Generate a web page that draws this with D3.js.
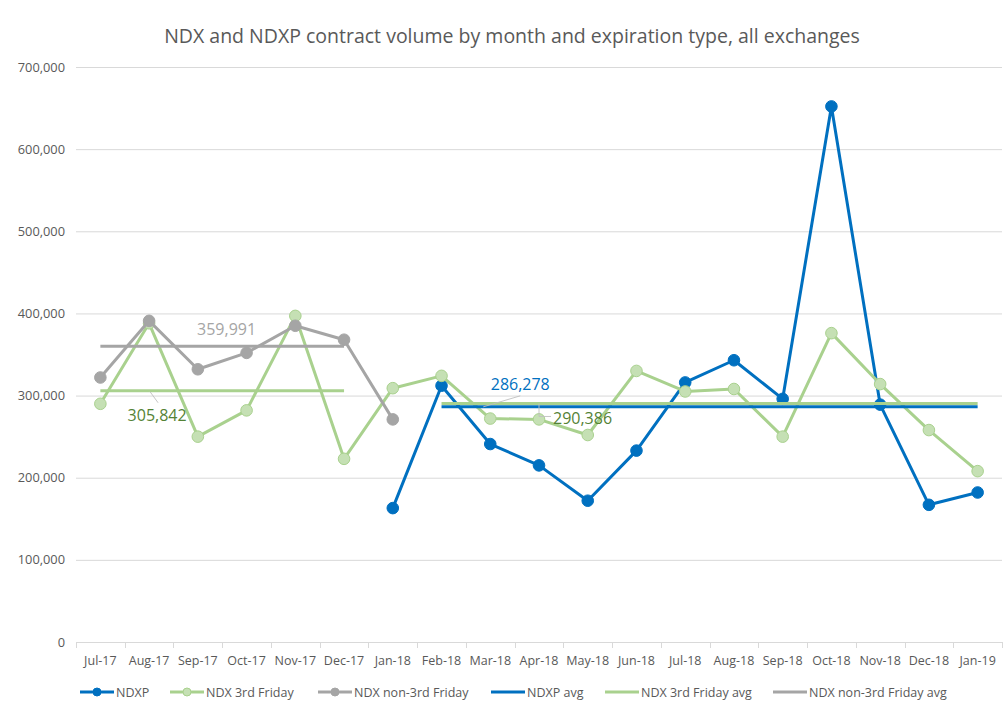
<!DOCTYPE html>
<html>
<head>
<meta charset="utf-8">
<script src="https://cdn.jsdelivr.net/npm/d3@7"></script>
<style>
  html, body { margin: 0; padding: 0; background: #fff; }
  svg { display: block; }
  text { font-family: "Open Sans", "DejaVu Sans", sans-serif; }
</style>
</head>
<body>
<svg id="chart" width="1006" height="711"></svg>
<script>
// ---- DATA ----
const months = ["Jul-17","Aug-17","Sep-17","Oct-17","Nov-17","Dec-17","Jan-18","Feb-18","Mar-18","Apr-18","May-18","Jun-18","Jul-18","Aug-18","Sep-18","Oct-18","Nov-18","Dec-18","Jan-19"];
const ndxp        = [null,null,null,null,null,null,163000,312000,241000,215000,172000,233000,316000,343000,296000,652000,289000,167000,182000];
const ndx3rd      = [290000,388000,250000,282000,397000,223000,309000,324000,272000,271000,252000,330000,305000,308000,250000,376000,314000,258000,208000];
const ndxNon3rd   = [322000,391000,332000,352000,385000,368000,271000,null,null,null,null,null,null,null,null,null,null,null,null];
const ndxpAvg     = [null,null,null,null,null,null,null,286278,286278,286278,286278,286278,286278,286278,286278,286278,286278,286278,286278];
const ndx3rdAvg   = [305842,305842,305842,305842,305842,305842,null,290386,290386,290386,290386,290386,290386,290386,290386,290386,290386,290386,290386];
const ndxNon3rdAvg= [359991,359991,359991,359991,359991,359991,null,null,null,null,null,null,null,null,null,null,null,null,null];
const yTicks = [0,100000,200000,300000,400000,500000,600000,700000];
const seriesNames = ["NDXP","NDX 3rd Friday","NDX non-3rd Friday","NDXP avg","NDX 3rd Friday avg","NDX non-3rd Friday avg"];
const chartTitle = "NDX and NDXP contract volume by month and expiration type, all exchanges";

// ---- STYLE ----
const BLUE = "#0070C0", GREEN = "#A9D18E", GREEN_FILL = "#C5E0B4", GRAY = "#A5A5A5";
const series = [
  {name: seriesNames[0], values: ndxp,         stroke: BLUE,  fill: BLUE,       marker: true},
  {name: seriesNames[1], values: ndx3rd,       stroke: GREEN, fill: GREEN_FILL, marker: true},
  {name: seriesNames[2], values: ndxNon3rd,    stroke: GRAY,  fill: GRAY,       marker: true},
  {name: seriesNames[3], values: ndxpAvg,      stroke: BLUE,  fill: BLUE,       marker: false},
  {name: seriesNames[4], values: ndx3rdAvg,    stroke: GREEN, fill: GREEN,      marker: false},
  {name: seriesNames[5], values: ndxNon3rdAvg, stroke: GRAY,  fill: GRAY,       marker: false}
];

const svg = d3.select("#chart");
const pLeft = 76, pRight = 1002, pTop = 67, pBottom = 642;

const x = d3.scaleBand().domain(months).range([pLeft, pRight]).paddingInner(0).paddingOuter(0);
const cx = m => x(m) + x.bandwidth() / 2;
const y = d3.scaleLinear().domain([0, 700000]).range([pBottom, pTop]);
const fmt = d3.format(",");

// Title
svg.append("text")
  .attr("x", 512).attr("y", 43)
  .attr("text-anchor", "middle")
  .attr("font-size", 19.5)
  .attr("fill", "#595959")
  .text(chartTitle);

// Gridlines
svg.append("g").selectAll("line").data(yTicks.filter(d => d > 0)).join("line")
  .attr("x1", pLeft).attr("x2", pRight)
  .attr("y1", d => y(d) + 0.5).attr("y2", d => y(d) + 0.5)
  .attr("stroke", "#D9D9D9").attr("stroke-width", 1);

// Y axis labels
const yAxis = d3.axisLeft(y).tickValues(yTicks).tickFormat(d => fmt(d)).tickSize(0).tickPadding(11);
const gy = svg.append("g").attr("transform", `translate(${pLeft},0)`).call(yAxis);
gy.select(".domain").remove();
gy.selectAll("text").attr("font-size", 12.8).attr("fill", "#595959")
  .attr("font-family", '"Open Sans", sans-serif');

// X axis
const xAxis = d3.axisBottom(x).tickSize(0).tickPadding(14);
const gx = svg.append("g").attr("transform", `translate(0,${pBottom})`).call(xAxis);
gx.select(".domain").attr("stroke", "#D9D9D9").attr("d", `M${pLeft},0.5H${pRight}`);
gx.selectAll("text").attr("font-size", 12.5).attr("fill", "#595959")
  .attr("font-family", '"Open Sans", sans-serif');
// category boundary tick marks
const bounds = months.map(m => x(m)).concat([pRight]);
svg.append("g").selectAll("line").data(bounds).join("line")
  .attr("x1", d => Math.round(d) + 0.5).attr("x2", d => Math.round(d) + 0.5)
  .attr("y1", pBottom).attr("y2", pBottom + 6)
  .attr("stroke", "#D9D9D9");

// Lines
const line = d3.line()
  .defined(d => d.v !== null)
  .x(d => cx(d.m))
  .y(d => y(d.v));

const plot = svg.append("g");
series.forEach(s => {
  const pts = months.map((m, i) => ({m, v: s.values[i]}));
  plot.append("path")
    .datum(pts)
    .attr("d", line)
    .attr("fill", "none")
    .attr("stroke", s.stroke)
    .attr("stroke-width", 3)
    .attr("stroke-linejoin", "round");
  if (s.marker) {
    plot.append("g").selectAll("circle").data(pts.filter(d => d.v !== null)).join("circle")
      .attr("cx", d => cx(d.m)).attr("cy", d => y(d.v))
      .attr("r", 5.8)
      .attr("fill", s.fill)
      .attr("stroke", s.stroke)
      .attr("stroke-width", 1);
  }
});

// Data labels for the averages
const labels = [
  {v: ndxNon3rdAvg[3], m: months[3], dx: -20, dy: -11, anchor: "middle", color: "#A5A5A5", leader: null},
  {v: ndx3rdAvg[1],    m: months[1], dx: 8,   dy: 30,  anchor: "middle", color: "#548235", leader: [[1, 1], [9, 12]]},
  {v: ndxpAvg[8],      m: months[8], dx: 30,  dy: -17, anchor: "middle", color: BLUE,      leader: [[30, -11], [-7, 0]]},
  {v: ndx3rdAvg[9],    m: months[9], dx: 14,  dy: 21,  anchor: "start",  color: "#548235", leader: [[0, 0], [0, 13], [12, 13]]}
];
labels.forEach(l => {
  const px = cx(l.m), py = y(l.v);
  if (l.leader) {
    svg.append("path")
      .attr("d", d3.line()(l.leader.map(p => [px + p[0], py + p[1]])))
      .attr("fill", "none").attr("stroke", "#BFBFBF").attr("stroke-width", 0.9);
  }
  svg.append("text")
    .attr("x", px + l.dx).attr("y", py + l.dy)
    .attr("text-anchor", l.anchor)
    .attr("font-size", 16)
    .attr("fill", l.color)
    .text(fmt(l.v));
});

// Legend
const legendX = [80, 170, 318, 491, 605, 773];
const lg = svg.append("g").attr("transform", "translate(0,692)");
series.forEach((s, i) => {
  const g = lg.append("g").attr("transform", `translate(${legendX[i]},0)`);
  g.append("line").attr("x1", 0).attr("x2", 34).attr("y1", 0).attr("y2", 0)
    .attr("stroke", s.stroke).attr("stroke-width", 3);
  if (s.marker) {
    g.append("circle").attr("cx", 17).attr("cy", 0).attr("r", 4)
      .attr("fill", s.fill).attr("stroke", s.stroke).attr("stroke-width", 1);
  }
  g.append("text").attr("x", 36).attr("y", 4.5)
    .attr("font-size", 12.5).attr("fill", "#595959")
    .text(s.name);
});
</script>
</body>
</html>
